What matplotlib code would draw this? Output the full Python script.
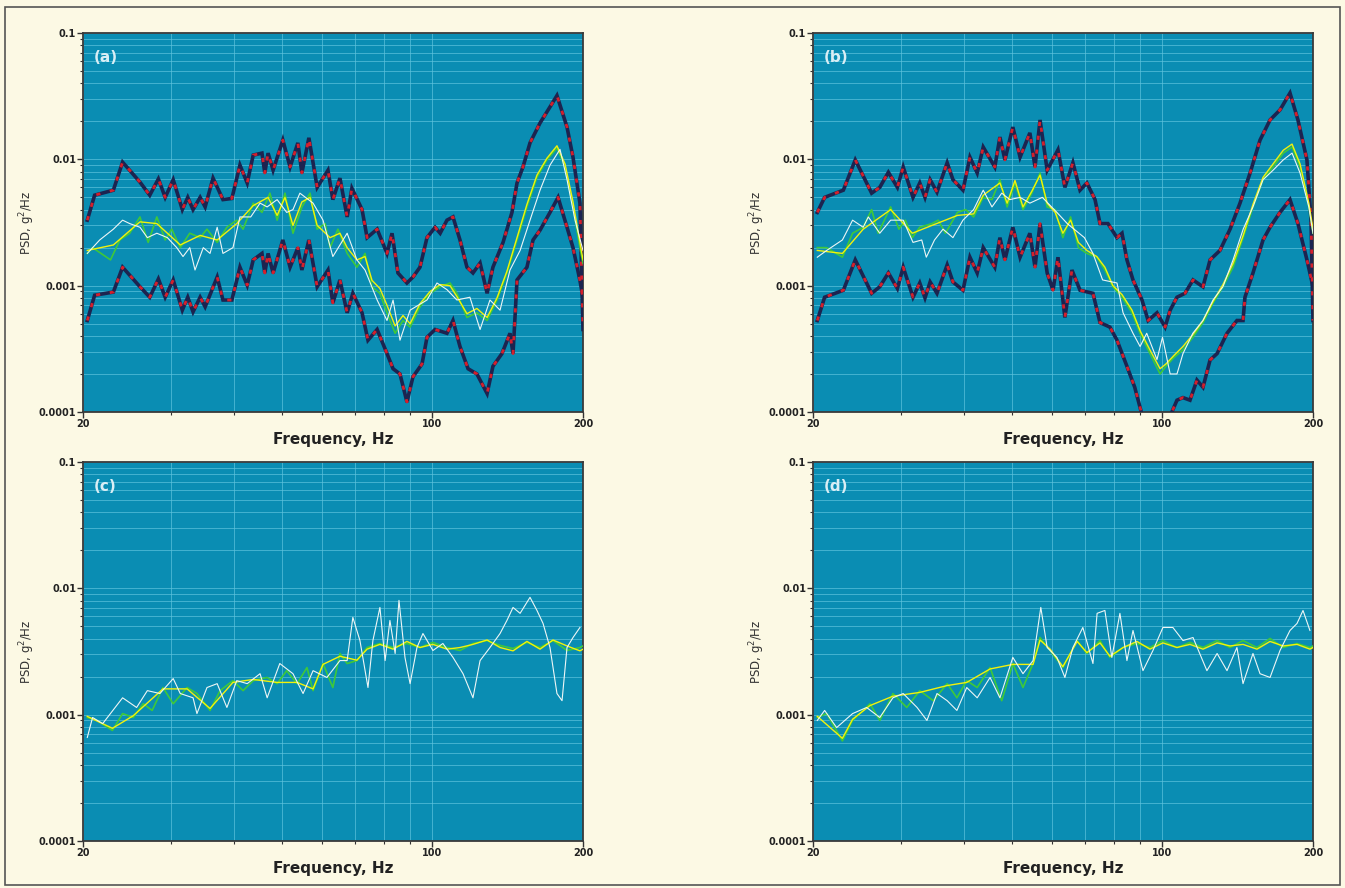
import matplotlib
matplotlib.use("Agg")
import matplotlib.pyplot as plt
from matplotlib.ticker import FixedLocator, NullFormatter, LogLocator
from matplotlib.patches import Rectangle

# ---- panel (a) ----
a_up_f = [20.4, 21.1, 23.0, 24.0, 26.0, 27.2, 28.3, 29.2, 30.3, 31.6, 32.4, 33.2, 34.3, 35.1, 36.4, 38.1,
          39.7, 41.2, 42.6, 43.8, 45.6, 46.2, 46.9, 48.0, 50.2, 51.9, 53.8, 54.8, 56.6, 58.8, 61.8, 63.2,
          65.3, 67.5, 69.0, 72.3, 74.0, 77.5, 81.1, 83.0, 85.3, 88.9, 91.4, 94.4, 97.5, 101.2, 103.6, 106.9,
          109.9, 113.5, 117.2, 120.5, 124.5, 128.6, 132.1, 138.4, 144.2, 147.6, 151.7, 156.7, 164.1, 171.8,
          177.4, 185.8, 191.0, 197.2, 200]
a_up = [0.0033, 0.0052, 0.0057, 0.0095, 0.0066, 0.0052, 0.0070, 0.0050, 0.0069, 0.0040, 0.0050, 0.0040,
        0.0050, 0.0042, 0.0071, 0.0048, 0.0049, 0.0090, 0.0065, 0.0108, 0.0112, 0.0078, 0.0112, 0.0082,
        0.0142, 0.0087, 0.0135, 0.0078, 0.0148, 0.0060, 0.0082, 0.0048, 0.0071, 0.0035, 0.0059, 0.0040,
        0.0024, 0.0028, 0.0018, 0.0026, 0.00126, 0.00105, 0.00117, 0.00140, 0.0024, 0.0029, 0.0026, 0.0033,
        0.0035, 0.0023, 0.0014, 0.00126, 0.00151, 0.00087, 0.0014, 0.0022, 0.0038, 0.0065, 0.0087, 0.0135,
        0.0194, 0.026, 0.032, 0.018, 0.0104, 0.0045, 0.00045]

a_lo_f = [20.4, 21.1, 23.0, 24.0, 26.0, 27.2, 28.3, 29.2, 30.3, 31.6, 32.4, 33.2, 34.3, 35.1, 37.1, 38.1,
          39.7, 41.2, 42.6, 43.8, 45.6, 46.2, 46.9, 48.0, 50.2, 51.9, 53.8, 54.8, 56.6, 58.8, 61.8, 63.2,
          65.3, 67.5, 69.3, 72.3, 74.3, 77.5, 81.1, 83.4, 86.1, 88.9, 91.4, 95.3, 97.5, 101.2, 106.9, 109.9,
          113.5, 117.8, 122.7, 128.6, 132.1, 137.7, 142.9, 144.9, 147.6, 154.5, 158.9, 164.1, 171.8, 178.3,
          185.8, 191.0, 197.2, 200]
a_lo = [0.00053, 0.00084, 0.00089, 0.0014, 0.00098, 0.00081, 0.00113, 0.00081, 0.00111, 0.00064, 0.00081,
        0.00062, 0.00081, 0.00068, 0.00117, 0.00077, 0.00077, 0.0014, 0.00101, 0.0016, 0.0018, 0.00126,
        0.0018, 0.00126, 0.0023, 0.0014, 0.0020, 0.00133, 0.0023, 0.00098, 0.00133, 0.00073, 0.00111,
        0.00061, 0.00087, 0.00061, 0.00037, 0.00045, 0.00029, 0.00022, 0.00020, 0.00012, 0.00019, 0.00024,
        0.00039, 0.00045, 0.00042, 0.00053, 0.00033, 0.00022, 0.00020, 0.00014, 0.00023, 0.00029, 0.00042,
        0.00029, 0.00111, 0.0014, 0.0023, 0.00275, 0.0038, 0.0050, 0.0029, 0.0020, 0.0011, 0.0008]

a_gr_f = [20.4, 20.9, 22.7, 23.7, 24.8, 26.0, 27.0, 28.1, 29.2, 30.1, 31.3, 32.7, 34.3, 35.4, 37.1, 38.8,
          40.6, 41.8, 43.8, 45.6, 47.3, 48.9, 50.7, 52.6, 54.8, 56.9, 58.8, 61.0, 62.4, 64.7, 67.5, 70.6,
          73.3, 75.7, 78.5, 81.1, 84.2, 87.3, 90.2, 94.4, 98.9, 103.6, 108.4, 111.9, 117.2, 122.7, 128.6,
          134.6, 140.9, 147.6, 154.5, 161.8, 169.4, 177.4, 184.1, 191.0, 197.2, 200]
a_gr = [0.0018, 0.0020, 0.0016, 0.0023, 0.0026, 0.0035, 0.0022, 0.0035, 0.0023, 0.0028, 0.0020, 0.0026,
        0.0024, 0.0028, 0.0022, 0.0029, 0.0033, 0.0028, 0.0045, 0.0038, 0.0054, 0.0033, 0.0054, 0.0026,
        0.0042, 0.0054, 0.0028, 0.0031, 0.0020, 0.0028, 0.0018, 0.0014, 0.0018, 0.00098, 0.00087, 0.00061,
        0.00042, 0.00053, 0.00047, 0.00068, 0.00087, 0.00098, 0.00105, 0.00087, 0.00056, 0.00061, 0.00053,
        0.00077, 0.00126, 0.0023, 0.0042, 0.0072, 0.0099, 0.0123, 0.0087, 0.0042, 0.0020, 0.0015]

a_ye_f = [20.4, 23.0, 26.0, 28.1, 31.3, 34.3, 37.1, 40.6, 43.8, 46.9, 48.9, 50.7, 52.6, 54.8, 56.9, 58.8,
          62.4, 65.3, 67.5, 70.6, 73.3, 75.7, 78.5, 81.1, 84.2, 87.3, 90.2, 94.4, 98.9, 103.6, 108.4, 111.9,
          117.2, 122.7, 128.6, 134.6, 140.9, 147.6, 154.5, 161.8, 169.4, 177.4, 184.1, 191.0, 197.2, 200]
a_ye = [0.0019, 0.0021, 0.0032, 0.0031, 0.0021, 0.0025, 0.0023, 0.0031, 0.0043, 0.0050, 0.0036, 0.0050,
        0.0030, 0.0046, 0.0050, 0.0030, 0.0024, 0.0026, 0.0020, 0.0016, 0.0017, 0.0011, 0.00095, 0.00070,
        0.00048, 0.00058, 0.00050, 0.00072, 0.00090, 0.00102, 0.00100, 0.00082, 0.00060, 0.00066, 0.00056,
        0.00080, 0.0013, 0.0024, 0.0044, 0.0075, 0.0102, 0.0128, 0.0092, 0.0046, 0.0022, 0.0016]

a_wh_f = [20.4, 21.6, 23.0, 24.0, 24.8, 26.0, 26.9, 28.1, 29.5, 30.8, 31.7, 32.7, 33.5, 34.8, 35.9, 37.1,
          38.1, 39.9, 41.2, 43.3, 45.2, 46.7, 48.9, 51.1, 52.6, 54.3, 57.7, 60.4, 63.2, 67.5, 70.6, 73.3,
          77.5, 81.1, 83.4, 86.1, 90.2, 97.5, 102.1, 106.9, 111.9, 118.8, 124.5, 130.3, 136.5, 142.9, 149.7,
          156.7, 164.1, 171.8, 179.9, 185.8, 192.8, 200]
a_wh = [0.0018, 0.0023, 0.0028, 0.0033, 0.0031, 0.0029, 0.0024, 0.0026, 0.0024, 0.0020, 0.0017, 0.0020,
        0.00133, 0.0020, 0.0018, 0.0029, 0.0018, 0.0020, 0.0035, 0.0035, 0.0045, 0.0042, 0.0048, 0.0038,
        0.0040, 0.0054, 0.0045, 0.0033, 0.0017, 0.0026, 0.0016, 0.00133, 0.00077, 0.00053, 0.00077, 0.00037,
        0.00064, 0.00077, 0.00105, 0.00093, 0.00077, 0.00081, 0.00045, 0.00077, 0.00064, 0.00133, 0.0019,
        0.0033, 0.0057, 0.0090, 0.0120, 0.0069, 0.0033, 0.0019]

# ---- panel (b) ----
b_up_f = [20.4, 21.1, 23.0, 24.3, 26.2, 27.2, 28.3, 29.5, 30.3, 31.7, 32.7, 33.5, 34.3, 35.4, 37.1, 38.1,
          39.9, 41.2, 42.6, 43.8, 46.2, 47.3, 48.4, 50.2, 51.9, 54.3, 55.6, 56.9, 58.8, 61.8, 63.8, 66.2,
          68.4, 70.6, 73.3, 75.0, 77.8, 81.1, 83.0, 84.9, 87.3, 91.0, 93.6, 97.5, 101.2, 103.6, 106.9, 110.9,
          115.1, 120.5, 124.5, 130.3, 136.5, 142.9, 149.7, 156.7, 164.1, 171.8, 179.9, 186.6, 194.5, 198.2, 200]
b_up = [0.0038, 0.0050, 0.0057, 0.0099, 0.0054, 0.0060, 0.0079, 0.0060, 0.0087, 0.0050, 0.0065, 0.0050,
        0.0069, 0.0055, 0.0094, 0.0069, 0.0057, 0.0104, 0.0078, 0.0125, 0.0087, 0.0150, 0.0099, 0.0180,
        0.0104, 0.0162, 0.0087, 0.0205, 0.0082, 0.0119, 0.0060, 0.0094, 0.0057, 0.0065, 0.0048, 0.0031,
        0.0031, 0.0024, 0.0026, 0.0016, 0.00111, 0.00077, 0.00053, 0.00061, 0.00047, 0.00064, 0.00081,
        0.00087, 0.00111, 0.00098, 0.0016, 0.0019, 0.0028, 0.0045, 0.0078, 0.0142, 0.0205, 0.0246, 0.0335,
        0.0205, 0.0099, 0.0033, 0.00053]

b_lo_f = [20.4, 21.1, 23.0, 24.3, 26.2, 27.2, 28.3, 29.5, 30.3, 31.7, 32.7, 33.5, 34.3, 35.4, 37.1, 38.1,
          39.9, 41.2, 42.6, 43.8, 46.2, 47.3, 48.4, 50.2, 51.9, 54.3, 55.6, 56.9, 58.8, 60.4, 61.8, 63.8,
          65.9, 68.4, 72.6, 75.0, 78.5, 81.1, 84.9, 88.0, 91.0, 94.4, 101.2, 106.9, 109.9, 113.5, 117.2,
          120.5, 124.5, 128.6, 134.6, 140.9, 144.9, 146.2, 151.7, 158.9, 164.1, 171.8, 179.9, 186.6, 194.5, 200]
b_lo = [0.00053, 0.00081, 0.00092, 0.0016, 0.00087, 0.00098, 0.00126, 0.00095, 0.0014, 0.00081, 0.00105,
        0.00080, 0.00107, 0.00087, 0.00146, 0.00107, 0.00092, 0.00168, 0.00126, 0.0020, 0.0014, 0.0024,
        0.0016, 0.0029, 0.00168, 0.0026, 0.0014, 0.0031, 0.00126, 0.00092, 0.00168, 0.00056, 0.00133,
        0.00092, 0.00087, 0.00051, 0.00047, 0.00037, 0.00023, 0.000157, 0.000095, 0.000080, 0.000075,
        0.000124, 0.000130, 0.000124, 0.000179, 0.000157, 0.000258, 0.00029, 0.00042, 0.00053, 0.00053,
        0.00081, 0.00126, 0.0023, 0.0029, 0.0038, 0.0048, 0.0031, 0.0016, 0.00098]

b_gr_f = [20.4, 21.3, 22.9, 24.0, 25.2, 26.2, 27.0, 28.6, 29.7, 30.6, 31.6, 32.7, 34.6, 35.6, 36.8, 38.9,
          40.4, 41.9, 43.8, 45.6, 47.3, 48.9, 50.7, 52.6, 54.8, 56.9, 58.8, 61.0, 63.2, 65.5, 67.9, 70.6,
          73.9, 76.7, 79.6, 83.0, 86.9, 90.2, 94.4, 98.9, 101.6, 105.4, 109.9, 115.0, 120.5, 126.2, 132.1,
          138.4, 145.0, 151.7, 158.9, 166.4, 174.4, 181.6, 188.4, 196.2, 200]
b_gr = [0.0020, 0.0020, 0.00168, 0.0026, 0.0029, 0.0040, 0.0026, 0.0042, 0.0028, 0.0033, 0.0024, 0.0029,
        0.0031, 0.0033, 0.0026, 0.0038, 0.0040, 0.0035, 0.0050, 0.0048, 0.0069, 0.0042, 0.0065, 0.0040,
        0.0054, 0.0078, 0.0042, 0.0040, 0.0024, 0.0035, 0.0020, 0.0018, 0.00168, 0.00133, 0.00098, 0.00081,
        0.00061, 0.00042, 0.00029, 0.00020, 0.00023, 0.00027, 0.00031, 0.00039, 0.00051, 0.00073, 0.00098,
        0.0014, 0.0024, 0.0042, 0.0069, 0.0087, 0.0112, 0.0125, 0.0087, 0.0042, 0.0026]

b_ye_f = [20.4, 22.9, 25.2, 28.6, 31.6, 34.6, 38.9, 41.9, 43.8, 47.3, 48.9, 50.7, 52.6, 54.8, 56.9, 58.8,
          61.0, 63.2, 65.5, 67.9, 70.6, 73.9, 76.7, 79.6, 83.0, 86.9, 90.2, 94.4, 98.9, 101.6, 105.4, 109.9,
          115.0, 120.5, 126.2, 132.1, 138.4, 145.0, 151.7, 158.9, 166.4, 174.4, 181.6, 188.4, 196.2, 200]
b_ye = [0.0019, 0.0018, 0.0028, 0.0040, 0.0026, 0.0030, 0.0036, 0.0037, 0.0052, 0.0065, 0.0045, 0.0068,
        0.0042, 0.0056, 0.0075, 0.0045, 0.0038, 0.0026, 0.0033, 0.0022, 0.0019, 0.0017, 0.0014, 0.0010,
        0.00085, 0.00064, 0.00044, 0.00031, 0.00022, 0.00024, 0.00028, 0.00033, 0.00041, 0.00053, 0.00075,
        0.00102, 0.0015, 0.0025, 0.0044, 0.0072, 0.0092, 0.0118, 0.0132, 0.0092, 0.0045, 0.0028]

b_wh_f = [20.4, 21.3, 22.9, 24.0, 25.2, 25.8, 27.2, 28.6, 30.3, 31.7, 33.0, 33.7, 35.0, 36.4, 38.1, 39.9,
          41.9, 43.8, 45.6, 47.7, 49.5, 51.9, 54.3, 57.5, 61.5, 64.5, 69.8, 72.6, 75.9, 81.1, 83.4, 87.3,
          90.2, 93.0, 97.5, 100.0, 103.6, 106.9, 109.9, 115.0, 120.5, 126.2, 132.1, 138.4, 145.0, 151.7,
          158.9, 166.4, 174.4, 181.6, 188.4, 196.2, 200]
b_wh = [0.00168, 0.0019, 0.0023, 0.0033, 0.0029, 0.0035, 0.0026, 0.0033, 0.0033, 0.0022, 0.0023, 0.00168,
        0.0023, 0.0028, 0.0024, 0.0033, 0.0040, 0.0057, 0.0042, 0.0054, 0.0048, 0.0050, 0.0045, 0.0050,
        0.0038, 0.0031, 0.0024, 0.0018, 0.00111, 0.00105, 0.00061, 0.00042, 0.00033, 0.00042, 0.00026,
        0.00039, 0.00020, 0.00020, 0.00029, 0.00042, 0.00053, 0.00077, 0.00098, 0.0016, 0.0028, 0.0042,
        0.0069, 0.0082, 0.0099, 0.0112, 0.0078, 0.0042, 0.0026]

# ---- panel (c) ----
c_gr_f = [20.4, 21.3, 22.9, 24.0, 25.2, 26.4, 27.5, 28.9, 30.3, 32.3, 33.8, 35.9, 37.6, 39.9, 41.8, 43.8,
          46.7, 48.9, 51.1, 53.6, 56.1, 57.7, 60.4, 63.2, 65.3, 67.5, 70.6, 74.0, 78.5, 83.4, 88.9, 94.4,
          100.2, 106.9, 113.5, 120.5, 128.6, 136.5, 144.9, 154.5, 164.1, 174.2, 185.8, 197.2, 200]
c_gr = [0.00095, 0.00090, 0.00075, 0.00102, 0.00095, 0.00122, 0.00108, 0.00164, 0.00122, 0.00164, 0.00147,
        0.00108, 0.00155, 0.00186, 0.00155, 0.00186, 0.00197, 0.00176, 0.00223, 0.00176, 0.00236, 0.00155,
        0.00254, 0.00164, 0.00305, 0.00254, 0.00268, 0.0034, 0.00366, 0.0034, 0.00366, 0.0034, 0.00373,
        0.0034, 0.00322, 0.00366, 0.00386, 0.00353, 0.00334, 0.00373, 0.0034, 0.00386, 0.00322, 0.0034, 0.0035]

c_ye_f = [20.4, 22.9, 25.2, 28.9, 32.3, 35.9, 39.9, 43.8, 48.9, 53.6, 57.7, 60.4, 65.3, 70.6, 74.0, 78.5,
          83.4, 88.9, 94.4, 100.2, 106.9, 113.5, 120.5, 128.6, 136.5, 144.9, 154.5, 164.1, 174.2, 185.8, 197.2, 200]
c_ye = [0.00097, 0.00078, 0.00098, 0.00160, 0.00160, 0.00112, 0.00180, 0.00190, 0.00180, 0.00180, 0.00160,
        0.00250, 0.00290, 0.00270, 0.00330, 0.00360, 0.00330, 0.00380, 0.00340, 0.00360, 0.00330, 0.00340,
        0.00360, 0.00390, 0.00340, 0.00320, 0.00380, 0.00330, 0.00390, 0.00350, 0.00320, 0.00330]

c_wh_f = [20.4, 20.9, 21.9, 24.0, 25.6, 26.9, 28.5, 30.3, 31.3, 33.2, 33.8, 35.4, 37.1, 38.8, 40.6, 42.6,
          45.2, 46.7, 49.5, 52.6, 55.1, 57.7, 61.5, 65.3, 67.5, 69.3, 71.6, 74.3, 76.0, 78.5, 80.4, 82.2,
          84.2, 85.7, 88.1, 90.2, 93.1, 95.7, 100.2, 104.9, 109.9, 115.1, 120.5, 124.5, 130.3, 136.5, 140.9,
          144.9, 149.7, 156.7, 161.8, 166.4, 171.8, 177.4, 181.6, 185.8, 191.0, 197.2]
c_wh = [0.00066, 0.00095, 0.00085, 0.00136, 0.00114, 0.00155, 0.00147, 0.00193, 0.00147, 0.00136, 0.00102,
        0.00164, 0.00176, 0.00114, 0.00186, 0.00176, 0.00211, 0.00136, 0.00254, 0.00211, 0.00147, 0.00223,
        0.00197, 0.00268, 0.00268, 0.00589, 0.00386, 0.00164, 0.00386, 0.00706, 0.00268, 0.00557, 0.00305,
        0.00803, 0.00284, 0.00176, 0.0034, 0.00439, 0.00322, 0.00366, 0.00284, 0.00211, 0.00136, 0.00268,
        0.0034, 0.00439, 0.00557, 0.00706, 0.00634, 0.00849, 0.00668, 0.00527, 0.0034, 0.00147, 0.00129,
        0.0034, 0.00408, 0.0049]

# ---- panel (d) ----
d_gr_f = [20.4, 21.3, 22.9, 24.0, 26.0, 27.2, 28.9, 30.8, 32.7, 34.8, 37.1, 38.8, 40.6, 42.6, 45.2, 47.7,
          50.2, 52.6, 55.1, 56.9, 59.6, 63.2, 67.5, 70.6, 75.0, 78.5, 83.4, 88.9, 94.4, 100.2, 106.9, 113.5,
          120.5, 128.6, 136.5, 144.9, 154.5, 164.1, 174.2, 185.8, 197.2, 200]
d_gr = [0.00095, 0.00102, 0.00062, 0.00090, 0.00122, 0.00090, 0.00147, 0.00114, 0.00155, 0.00129, 0.00176,
        0.00136, 0.00186, 0.00164, 0.00236, 0.00129, 0.00254, 0.00164, 0.00254, 0.00408, 0.00322, 0.00236,
        0.00386, 0.00305, 0.00386, 0.00284, 0.0034, 0.00366, 0.0034, 0.00386, 0.0034, 0.00373, 0.0034,
        0.00386, 0.0034, 0.00386, 0.0034, 0.00401, 0.0034, 0.00366, 0.0034, 0.0035]

d_ye_f = [20.4, 22.9, 24.0, 26.0, 28.9, 32.7, 37.1, 40.6, 45.2, 50.2, 55.1, 56.9, 59.6, 63.2, 67.5, 70.6,
          75.0, 78.5, 83.4, 88.9, 94.4, 100.2, 106.9, 113.5, 120.5, 128.6, 136.5, 144.9, 154.5, 164.1, 174.2,
          185.8, 197.2, 200]
d_ye = [0.00097, 0.00065, 0.00092, 0.00118, 0.00140, 0.00150, 0.00170, 0.00180, 0.00230, 0.00250, 0.00250,
        0.00390, 0.00330, 0.00240, 0.00380, 0.00310, 0.00370, 0.00290, 0.00340, 0.00380, 0.00330, 0.00370,
        0.00340, 0.00360, 0.00330, 0.00370, 0.00350, 0.00360, 0.00330, 0.00380, 0.00350, 0.00360, 0.00330, 0.0034]

d_wh_f = [20.4, 21.1, 22.3, 24.0, 25.6, 27.2, 28.9, 30.3, 32.3, 33.8, 35.4, 37.1, 38.8, 40.6, 42.6, 45.2,
          47.3, 50.2, 52.6, 55.1, 57.1, 58.8, 61.5, 63.8, 66.2, 69.3, 72.6, 74.0, 76.7, 79.2, 82.2, 84.9,
          87.3, 91.4, 95.7, 100.2, 104.9, 109.9, 115.1, 122.7, 128.6, 134.6, 140.9, 144.9, 151.7, 156.7,
          164.1, 171.8, 179.9, 185.8, 191.0, 197.2]
d_wh = [0.00090, 0.00108, 0.00079, 0.00102, 0.00114, 0.00095, 0.00136, 0.00147, 0.00114, 0.00090, 0.00147,
        0.00129, 0.00108, 0.00164, 0.00136, 0.00197, 0.00136, 0.00284, 0.00211, 0.00268, 0.00706, 0.0034,
        0.00284, 0.00197, 0.0034, 0.0049, 0.00254, 0.00634, 0.00668, 0.00284, 0.00634, 0.00268, 0.00464,
        0.00223, 0.00322, 0.0049, 0.0049, 0.00386, 0.00408, 0.00223, 0.00305, 0.00223, 0.0034, 0.00176,
        0.00305, 0.00211, 0.00197, 0.00322, 0.00464, 0.00527, 0.00668, 0.00464]

panel_labels = ["(a)", "(b)", "(c)", "(d)"]

BG = "#fcf9e4"
AX_BG = "#0a8db3"
GRID = "#5fc3dd"
DARK = "#1c2450"
RED = "#d4202c"
GREEN = "#3ec83a"
YELLOW = "#f2f20c"
WHITE = "#eef6f6"


def draw_bound(ax, f, v):
    # dark trace with red flecks along it
    ax.plot(f, v, color=DARK, lw=2.6, solid_joinstyle="miter", zorder=3)
    ax.plot(f, v, color=RED, lw=2.0, dashes=(1.5, 3.5), zorder=4)


def draw_traces(ax, gf, g, wf, w, yf, y):
    ax.plot(gf, g, color=GREEN, lw=1.2, zorder=5)
    ax.plot(yf, y, color=YELLOW, lw=1.0, zorder=6)
    ax.plot(wf, w, color=WHITE, lw=0.8, zorder=7)


def style_axes(ax, label):
    ax.set_facecolor(AX_BG)
    ax.set_xscale("log")
    ax.set_yscale("log")
    ax.set_xlim(20, 200)
    ax.set_ylim(1e-4, 1e-1)
    ax.xaxis.set_major_locator(FixedLocator([20, 100, 200]))
    ax.set_xticklabels(["20", "100", "200"])
    ax.xaxis.set_minor_locator(FixedLocator([30, 40, 50, 60, 70, 80, 90]))
    ax.xaxis.set_minor_formatter(NullFormatter())
    ax.yaxis.set_major_locator(FixedLocator([1e-4, 1e-3, 1e-2, 1e-1]))
    ax.set_yticklabels(["0.0001", "0.001", "0.01", "0.1"])
    ax.yaxis.set_minor_locator(LogLocator(base=10, subs=range(2, 10)))
    ax.yaxis.set_minor_formatter(NullFormatter())
    ax.grid(True, which="both", axis="both", color=GRID, lw=0.6, alpha=0.8, zorder=0)
    ax.set_axisbelow(True)
    ax.tick_params(which="major", length=4, width=1, color="#333333", labelsize=7, pad=1)
    ax.tick_params(which="minor", length=2, width=0.8, color="#333333")
    for t in ax.get_xticklabels() + ax.get_yticklabels():
        t.set_fontweight("bold")
        t.set_color("#222222")
    for s in ax.spines.values():
        s.set_color("#3a3a3a")
        s.set_linewidth(1.3)
    ax.set_xlabel("Frequency, Hz", fontsize=11, fontweight="bold", color="#222222", labelpad=2)
    ax.set_ylabel("PSD, g$^2$/Hz", fontsize=8.5, color="#333333", labelpad=1)
    ax.text(0.022, 0.955, label, transform=ax.transAxes, color="#d9eef5",
            fontsize=11, fontweight="bold", va="top", ha="left")


fig = plt.figure(figsize=(13.45, 8.88), dpi=100, facecolor=BG)
fig.patches.append(Rectangle((0.004, 0.003), 0.992, 0.989, transform=fig.transFigure,
                             fill=False, edgecolor="#555555", lw=1.2))

W, H = 1345, 888
boxes = [(83, 33), (813, 33), (83, 462), (813, 462)]
axes = []
for (x0, y0) in boxes:
    ax = fig.add_axes([x0 / W, 1 - (y0 + 379) / H, 500 / W, 379 / H])
    axes.append(ax)

# (a)
draw_bound(axes[0], a_up_f, a_up)
draw_bound(axes[0], a_lo_f, a_lo)
draw_traces(axes[0], a_gr_f, a_gr, a_wh_f, a_wh, a_ye_f, a_ye)

# (b)
draw_bound(axes[1], b_up_f, b_up)
draw_bound(axes[1], b_lo_f, b_lo)
draw_traces(axes[1], b_gr_f, b_gr, b_wh_f, b_wh, b_ye_f, b_ye)

# (c)
draw_traces(axes[2], c_gr_f, c_gr, c_wh_f, c_wh, c_ye_f, c_ye)

# (d)
draw_traces(axes[3], d_gr_f, d_gr, d_wh_f, d_wh, d_ye_f, d_ye)

for ax, lab in zip(axes, panel_labels):
    style_axes(ax, lab)

fig.savefig("out.png", dpi=100, facecolor=BG)
